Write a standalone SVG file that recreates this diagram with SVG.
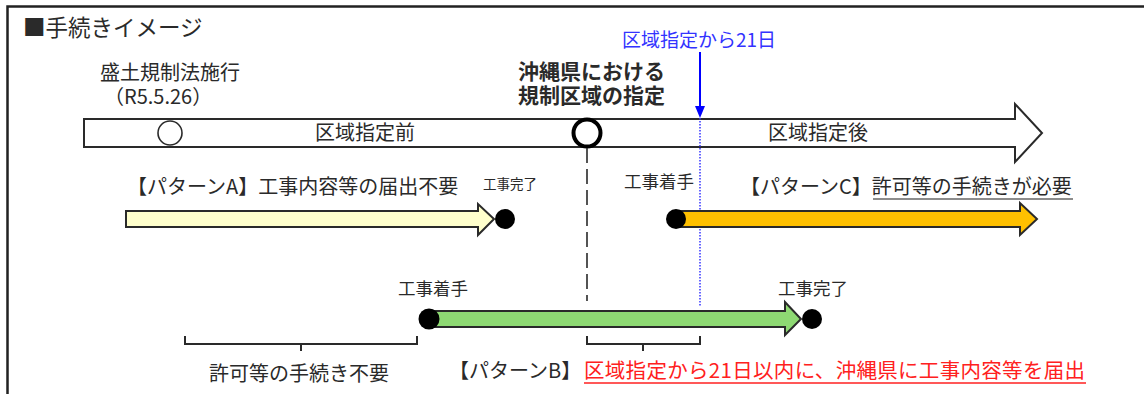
<svg xmlns="http://www.w3.org/2000/svg" width="1144" height="394" viewBox="0 0 1144 394">
<style>
text{font-family:"Noto Sans CJK JP","Noto Sans",sans-serif;fill:#2a2a2a}
.t20{font-size:20px}
.t18{font-size:17.5px}
.bold{font-weight:bold}
.blue{fill:#3333ff}
.red{fill:#ff2020}
.arrow{stroke:#2a2a2a;stroke-width:2;stroke-linejoin:miter}
.dot{fill:#000}
.brace{fill:none;stroke:#2a2a2a;stroke-width:2}
</style>
<rect width="1144" height="394" fill="#fff"/>
<path d="M7.5,394 V6.5 H1144" fill="none" stroke="#222" stroke-width="2.5"/>
<g id="title"><text x="23" y="36" style="font-size:22.5px">■手続きイメージ</text></g>

<g id="timeline">
<polygon class="arrow" fill="#fff" points="84,119 1015,119 1015,104 1042,133 1015,162 1015,147 84,147"/>
<text class="t20" x="315" y="140">区域指定前</text>
<text class="t20" x="768" y="140">区域指定後</text>
</g>

<g id="enforcement">
<circle cx="170" cy="133" r="12" fill="#fff" stroke="#2a2a2a" stroke-width="1.6"/>
<text class="t20" x="100" y="80">盛土規制法施行</text>
<text class="t20" x="104" y="104">（R5.5.26）</text>
</g>

<g id="designation">
<circle cx="587" cy="133" r="13.5" fill="#fff" stroke="#000" stroke-width="4"/>
<text class="t20 bold" x="518" y="79" style="font-size:21px">沖縄県における</text>
<text class="t20 bold" x="518" y="103" style="font-size:21px">規制区域の指定</text>
</g>

<g id="day21">
<text class="blue" style="font-size:19px" x="622" y="47">区域指定から21日</text>
</g>

<g id="connectors">
<line x1="587" y1="148" x2="587" y2="301" stroke="#2a2a2a" stroke-width="1.6" stroke-dasharray="15,6"/>
<line x1="700" y1="52" x2="700" y2="108" stroke="#0000ff" stroke-width="2"/>
<polygon points="695,106 705,106 700,118" fill="#0000ff"/>
<line x1="700" y1="118" x2="700" y2="306" stroke="#3333ff" stroke-width="1.5" stroke-dasharray="1.5,1.5"/>
</g>

<g id="patternA">
<polygon class="arrow" fill="#ffffcc" points="126,211 478,211 478,204 494,219 478,235 478,227 126,227"/>
<circle class="dot" cx="505" cy="219" r="10"/>
<text class="t20" x="127" y="194">【パターンA】工事内容等の届出不要</text>
<text x="483" y="189" style="font-size:13.5px">工事完了</text>
</g>

<g id="patternC">
<polygon class="arrow" fill="#ffc000" points="676,211 1020,211 1020,203 1037,219 1020,235 1020,227 676,227"/>
<circle class="dot" cx="676" cy="219" r="10"/>
<text class="t18" x="624" y="188">工事着手</text>
<text class="t20" x="740" y="194">【パターンC】許可等の手続きが必要</text>
<line x1="873" y1="199" x2="1073" y2="199" stroke="#666" stroke-width="1.3"/>
</g>

<g id="patternB">
<polygon class="arrow" fill="#8ed973" points="429,311 785,311 785,302 801,319 785,335 785,327 429,327"/>
<circle class="dot" cx="429" cy="319" r="10.5"/>
<circle class="dot" cx="812" cy="319" r="10"/>
<text class="t18" x="398" y="295">工事着手</text>
<text class="t18" x="778" y="295">工事完了</text>
<text class="t20" x="449" y="378">【パターンB】</text>
<text class="red" style="font-size:20.5px" x="584" y="378" textLength="501">区域指定から21日以内に、沖縄県に工事内容等を届出</text>
<line x1="584" y1="383" x2="1086" y2="383" stroke="#ff2020" stroke-width="1.3"/>
</g>

<g id="braces">
<path class="brace" d="M185,336 V344 H417 V336 M301,344 V351"/>
<path class="brace" d="M587,336 V344 H700 V336 M643,344 V351"/>
<text class="t20" x="209" y="381">許可等の手続き不要</text>
</g>
</svg>
